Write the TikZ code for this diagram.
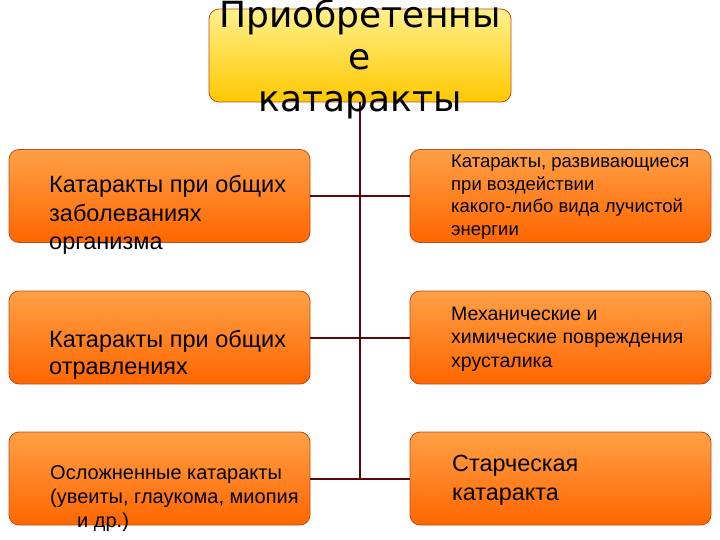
\documentclass[tikz,border=0pt]{standalone}
\usepackage{fontspec}
\setmainfont{Liberation Sans}
\newfontfamily\titlefont{DejaVu Sans}
\newcommand\mylines[2]{\vtop{\baselineskip=#1\lineskiplimit=-60pt\lineskip=0pt\relax #2}}
\definecolor{orTop}{RGB}{255,160,70}
\definecolor{orBot}{RGB}{255,102,0}
\definecolor{yeTop}{RGB}{255,240,140}
\definecolor{yeBot}{RGB}{255,200,0}
\definecolor{boxEdge}{RGB}{180,80,30}
\definecolor{link}{RGB}{90,10,10}
\tikzset{
  obox/.style={draw=boxEdge, line width=0.8pt, rounded corners=10pt, top color=orTop, bottom color=orBot,
    minimum width=301pt, minimum height=93pt, inner sep=0pt},
  ybox/.style={draw=boxEdge, line width=0.8pt, rounded corners=10pt, top color=yeTop, bottom color=yeBot,
    minimum width=302pt, minimum height=93pt, inner sep=0pt},
  txt/.style={anchor=base west, inner sep=0pt, text=black},
  conn/.style={draw=link, line width=2pt}
}
\begin{document}
\begin{tikzpicture}[x=1pt, y=-1pt]
\useasboundingbox (0,0) rectangle (720,540);
% boxes
\node[ybox] (T) at (360,55.5) {};
\node[obox] (L1) at (159.5,196) {};
\node[obox] (L2) at (159.5,337.5) {};
\node[obox] (L3) at (159.5,478.5) {};
\node[obox] (R1) at (560.5,196) {};
\node[obox] (R2) at (560.5,337.5) {};
\node[obox] (R3) at (560.5,478.5) {};
% connectors
\coordinate (vend) at (T.south |- L3.east);
\draw[conn] (T.south) -- (vend);
\draw[conn] (L1.east) -- (R1.west);
\draw[conn] (L2.east) -- (R2.west);
\draw[conn] (L3.east) -- (R3.west);
% texts
\node[anchor=base, inner sep=0pt] (Tt) at (360,28) {\titlefont\fontsize{36}{42}\selectfont
  \mylines{42pt}{\hbox to 0pt{\hss Приобретенны\hss}\hbox to 0pt{\hss е\hss}\hbox to 0pt{\hss катаракты\hss}}};
\node[txt] (L1t) at (49,193) {\fontsize{23.5}{28}\selectfont
  \mylines{28.5pt}{\hbox{Катаракты при общих}\hbox{заболеваниях}\hbox{организма}}};
\node[txt] (L2t) at (49,347) {\fontsize{23.5}{28}\selectfont
  \mylines{27pt}{\hbox{Катаракты при общих}\hbox{отравлениях}}};
\node[txt] (L3t) at (50,479) {\fontsize{20}{24}\selectfont
  \mylines{24pt}{\hbox{Осложненные катаракты}\hbox{(увеиты, глаукома, миопия}\hbox{\hspace{27pt}и др.)}}};
\node[txt] (R1t) at (451,168) {\fontsize{18.5}{22}\selectfont
  \mylines{22.5pt}{\hbox{Катаракты, развивающиеся}\hbox{при воздействии}\hbox{какого-либо вида лучистой}\hbox{энергии}}};
\node[txt] (R2t) at (451,320) {\fontsize{19.5}{24}\selectfont
  \mylines{23.5pt}{\hbox{Механические и}\hbox{химические повреждения}\hbox{хрусталика}}};
\node[txt] (R3t) at (452,471) {\fontsize{23.4}{29}\selectfont
  \mylines{29pt}{\hbox{Старческая}\hbox{катаракта}}};
\end{tikzpicture}
\end{document}
